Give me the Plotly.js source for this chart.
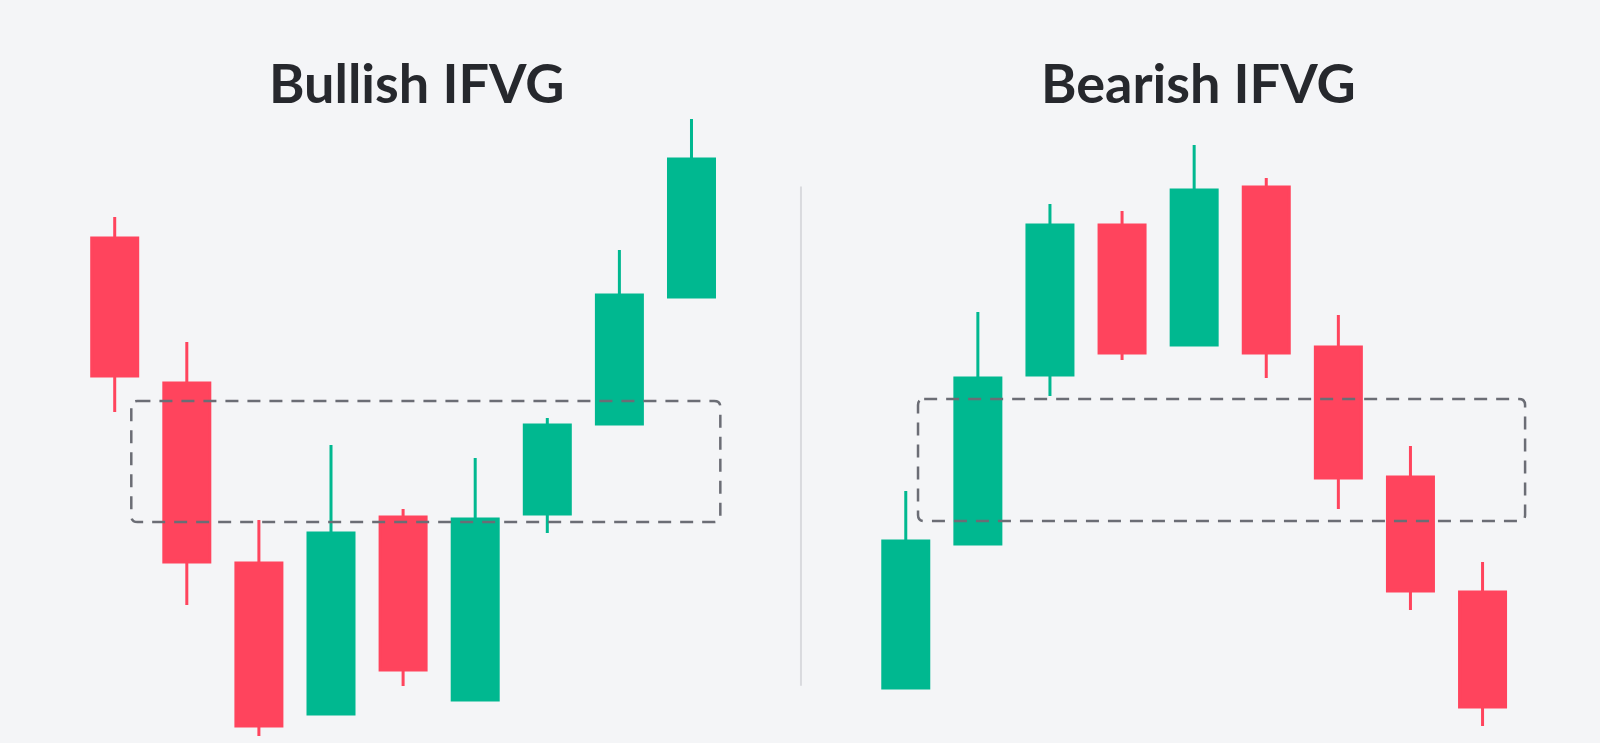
<!DOCTYPE html>
<html>
<head>
<meta charset="utf-8">
<script src="https://cdn.plot.ly/plotly-3.0.1.min.js"></script>
<style>
    html, body { margin: 0; padding: 0; background: #f4f5f7; }
    #ifvg-plot { width: 1600px; height: 743px; }
</style>
</head>
<body>
<div id="ifvg-plot"></div>
<script>
// Candle index on each side, 9 candles per pattern.
const candle_idx = [1, 2, 3, 4, 5, 6, 7, 8, 9];

// Bullish IFVG: price falls through the gap, then reclaims it.
const bull_open  = [505, 360, 180,  29, 226,  43, 229, 319, 446];
const bull_high  = [526, 401, 223, 298, 234, 285, 325, 493, 624];
const bull_low   = [331, 138,   7,  29,  57,  43, 210, 319, 446];
const bull_close = [367, 181,  17, 210,  73, 224, 318, 448, 584];

// Bearish IFVG: price rallies through the gap, then loses it.
const bear_open  = [ 55, 199, 368, 518, 398, 556, 396, 266, 151];
const bear_high  = [252, 431, 539, 532, 598, 565, 428, 297, 181];
const bear_low   = [ 55, 199, 347, 383, 398, 365, 234, 133,  17];
const bear_close = [202, 365, 518, 390, 553, 390, 265, 152,  36];

// The fair value gap zones: [from candle, to candle] and [low, high] price.
const bull_gap_span = [1.23, 9.40];
const bull_gap_price = [221, 342];
const bear_gap_span = [1.17, 9.59];
const bear_gap_price = [222, 344];

const titles = ['Bullish IFVG', 'Bearish IFVG'];

const green = '#00b890';
const red = '#ff445d';
const bg = '#f4f5f7';

const candle_trace = function (xaxis, o, h, l, c) {
    return {
        type: 'candlestick',
        x: candle_idx,
        open: o,
        high: h,
        low: l,
        close: c,
        xaxis: xaxis,
        yaxis: 'y',
        whiskerwidth: 0,
        increasing: { line: { color: green, width: 3 }, fillcolor: green },
        decreasing: { line: { color: red, width: 3 }, fillcolor: red },
        hoverinfo: 'skip',
        showlegend: false
    };
}

// rounded dashed box drawn in the axis' own data units
const gap_zone = function (xref, span, price) {
    const rx = 0.085, ry = 6;
    let [x0, x1] = span;
    let [y0, y1] = price;
    let path = `M ${x0 + rx},${y1} L ${x1 - rx},${y1} Q ${x1},${y1} ${x1},${y1 - ry} ` +
        `L ${x1},${y0 + ry} Q ${x1},${y0} ${x1 - rx},${y0} L ${x0 + rx},${y0} ` +
        `Q ${x0},${y0} ${x0},${y0 + ry} L ${x0},${y1 - ry} Q ${x0},${y1} ${x0 + rx},${y1} Z`;
    return {
        type: 'path',
        xref: xref,
        yref: 'y',
        path: path,
        line: { color: '#6b6d75', width: 2.5, dash: '13px,9px' },
        fillcolor: 'rgba(0,0,0,0)',
        layer: 'above'
    };
}

const hidden_axis = {
    visible: false,
    showgrid: false,
    zeroline: false,
    fixedrange: true,
    rangeslider: { visible: false }
};

const layout = {
    width: 1600,
    height: 743,
    margin: { l: 0, r: 0, t: 0, b: 0 },
    paper_bgcolor: bg,
    plot_bgcolor: bg,
    // candle body ~46px out of the 72px step
    boxgap: 0.362,
    boxgroupgap: 0,
    showlegend: false,
    xaxis: Object.assign({}, hidden_axis, { domain: [0, 0.5], range: [-0.591, 10.505], anchor: 'y' }),
    xaxis2: Object.assign({}, hidden_axis, { domain: [0.5, 1], range: [-0.467, 10.629], anchor: 'y' }),
    yaxis: { visible: false, range: [0, 743], fixedrange: true, showgrid: false, zeroline: false },
    shapes: [
        gap_zone('x', bull_gap_span, bull_gap_price),
        gap_zone('x2', bear_gap_span, bear_gap_price),
        {
            type: 'line', xref: 'paper', yref: 'paper',
            x0: 0.5006, x1: 0.5006, y0: 0.077, y1: 0.749,
            line: { color: '#d9dade', width: 2 }
        }
    ],
    annotations: titles.map((t, i) => ({
        text: t,
        xref: 'paper',
        yref: 'paper',
        x: [0.26, 0.74875][i],
        y: 0.889,
        xanchor: 'center',
        yanchor: 'middle',
        showarrow: false,
        font: { family: 'Lato, "Open Sans", sans-serif', size: 54, color: '#26282d', weight: 700 }
    }))
};

const config = { staticPlot: true, displayModeBar: false };

Plotly.newPlot('ifvg-plot', [
    candle_trace('x', bull_open, bull_high, bull_low, bull_close),
    candle_trace('x2', bear_open, bear_high, bear_low, bear_close)
], layout, config);
</script>
</body>
</html>
